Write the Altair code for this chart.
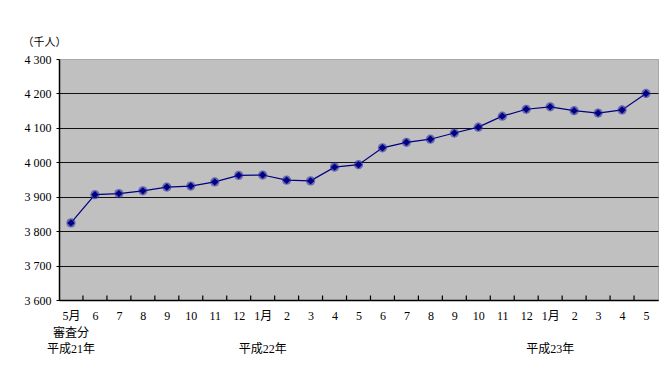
import json
import altair as alt
import pandas as pd

months = ["5月", "6", "7", "8", "9", "10", "11", "12", "1月", "2", "3", "4", "5",
          "6", "7", "8", "9", "10", "11", "12", "1月", "2", "3", "4", "5"]
values = [3824, 3906, 3909, 3917, 3928, 3931, 3943, 3962, 3963, 3948, 3946, 3986, 3993,
          4042, 4058, 4067, 4085, 4102, 4134, 4154, 4161, 4150, 4143, 4152, 4200]
y_ticks = [3600, 3700, 3800, 3900, 4000, 4100, 4200, 4300]
note_pos = [0]
note_text = ["審査分"]
year_pos = [0, 8, 20]
year_text = ["平成21年", "平成22年", "平成23年"]

idx = list(range(len(months)))
df = pd.DataFrame({"i": idx, "v": values})
bounds = pd.DataFrame({"b": [i + 0.5 for i in idx[:-1]]})
notes = pd.DataFrame({"i": note_pos, "t": note_text})
years = pd.DataFrame({"i": year_pos, "t": year_text})

label_expr = "{m}[datum.value]".format(m=json.dumps(months, ensure_ascii=True))

FONT = "Liberation Serif, Noto Sans CJK JP"
NAVY = "#000080"

xscale = alt.Scale(domain=[-0.5, len(months) - 0.5], nice=False, zero=False)
yscale = alt.Scale(domain=[3600, 4300], nice=False, zero=False)

x_axis = alt.Axis(
    values=idx, labelExpr=label_expr, ticks=False, grid=False,
    domainColor="black", domainWidth=1.5, labelFont=FONT, labelFontSize=12,
    labelColor="black", labelPadding=10, labelBaseline="top",
    labelAngle=0, title=None, labelOverlap=False, labelFlush=False, labelBound=False,
)
y_axis = alt.Axis(
    values=y_ticks, labelExpr="replace(format(datum.value, ','), ',', ' ')",
    grid=True, gridColor={"condition": {"test": "datum.value == 4300", "value": "#a8a8a8"}, "value": "#111111"},
    gridWidth=1.2, domainColor="black", domainWidth=1.5, tickColor="black", tickSize=3,
    labelFont=FONT, labelFontSize=12, labelColor="black", labelPadding=5,
    labelOverlap=False, labelFlush=False, labelBound=False,
    title="（千人）", titleAngle=0, titleAlign="left", titleBaseline="middle",
    titleX=-37, titleY=-17, titleFont="Noto Sans CJK JP", titleFontSize=11,
    titleFontWeight="normal", titleColor="black",
)

X = alt.X("i:Q", scale=xscale, axis=x_axis)
base = alt.Chart(df)
line = base.mark_line(color=NAVY, strokeWidth=1.2).encode(
    x=X, y=alt.Y("v:Q", scale=yscale, axis=y_axis),
)
halo = base.mark_point(shape="circle", filled=True, size=85, color="#2b2ba8", opacity=0.6).encode(
    x=X, y=alt.Y("v:Q", scale=yscale, axis=y_axis)
)
pts = base.mark_point(shape="diamond", filled=True, size=55, color=NAVY, opacity=1).encode(
    x=X, y=alt.Y("v:Q", scale=yscale, axis=y_axis)
)
ticks = alt.Chart(bounds).mark_rule(color="black", strokeWidth=1.2).encode(
    x=alt.X("b:Q", scale=xscale, axis=x_axis), y=alt.value(241), y2=alt.value(236.5)
)
note_layer = alt.Chart(notes).mark_text(font=FONT, fontSize=12, color="black",
                                        baseline="middle", align="center").encode(
    x=X, y=alt.value(274), text="t:N"
)
year_layer = alt.Chart(years).mark_text(font=FONT, fontSize=12, color="black",
                                        baseline="middle", align="center").encode(
    x=X, y=alt.value(290), text="t:N"
)

chart = alt.layer(line, halo, pts, ticks, note_layer, year_layer).properties(
    width=599, height=241,
    autosize=alt.AutoSizeParams(type="none"),
    padding={"left": 51, "top": 51, "right": 6, "bottom": 64},
    background="white",
).configure_view(fill="#c0c0c0", stroke="#a8a8a8", strokeWidth=1)

chart.save("out.html", embed_options={"renderer": "svg", "actions": False})
